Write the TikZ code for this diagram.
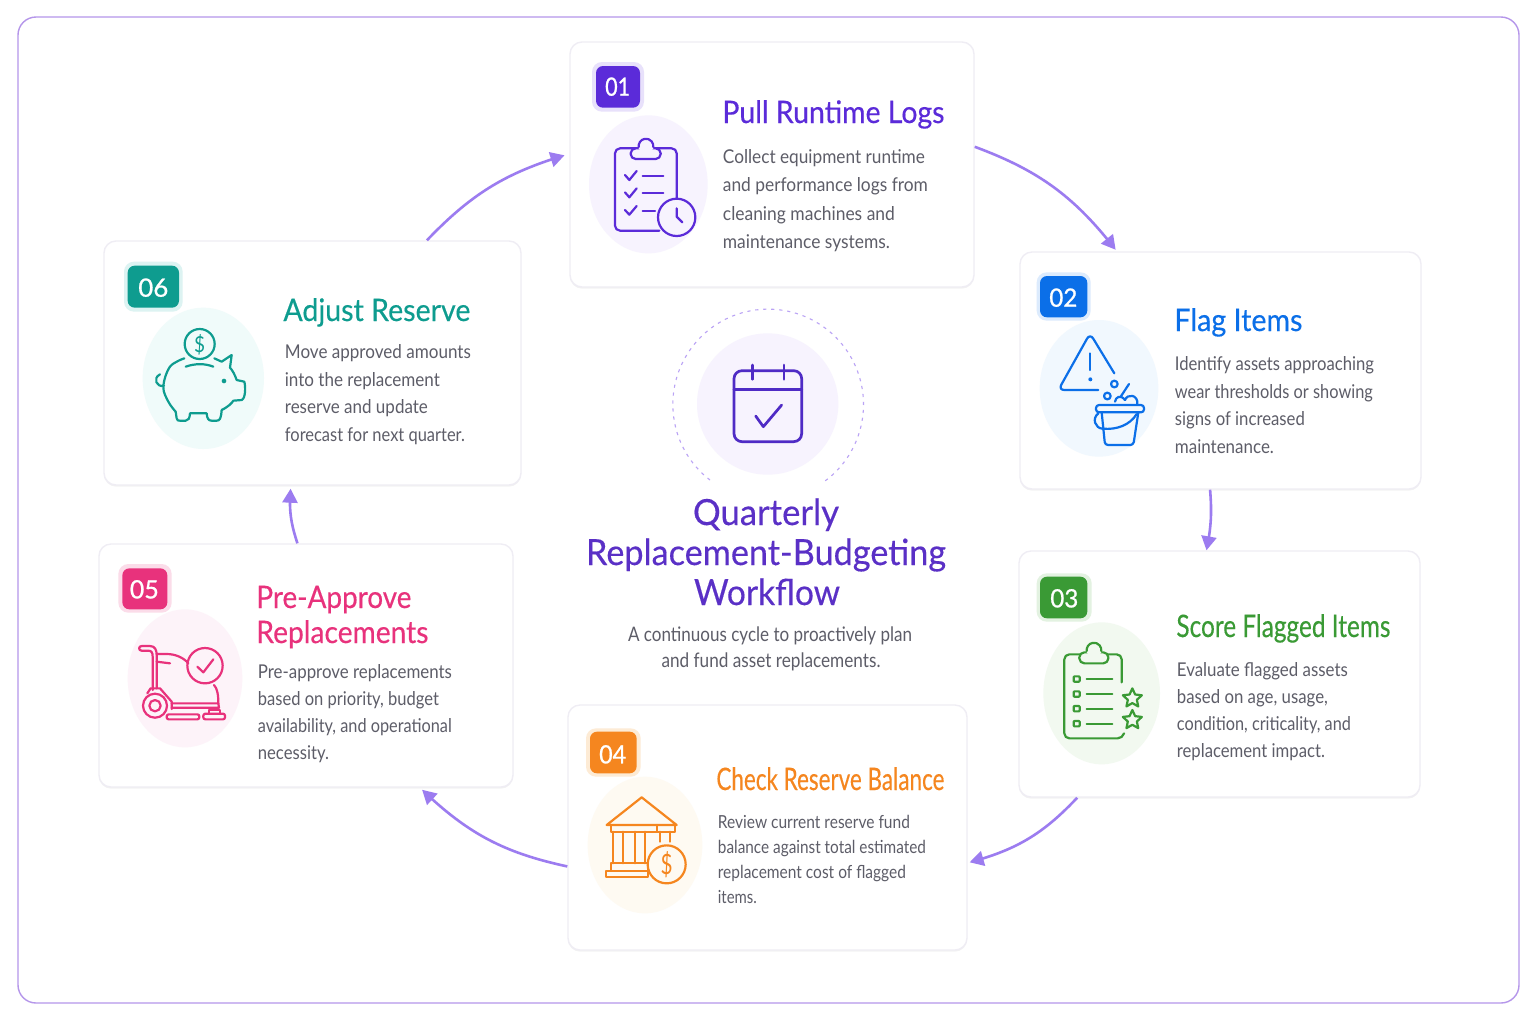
\documentclass[tikz,border=0pt]{standalone}
\usepackage{fontspec}
\usepackage{graphicx}
\usetikzlibrary{arrows.meta,shadows,shapes.geometric,bending}
\setmainfont{Lato}
\newfontfamily\medfont[FakeBold=0.35]{Lato}
\newfontfamily\digitfont[FakeBold=0.9]{Lato}
\newlength{\fitlen}
\newcommand{\Wd}[2]{\setlength{\fitlen}{#1pt}\setlength{\fitlen}{0.5\fitlen}\resizebox{\fitlen}{\height}{#2}}
\definecolor{cA}{HTML}{5B2BD9}\definecolor{cB}{HTML}{0B6FE8}\definecolor{cC}{HTML}{3A9A35}
\definecolor{cD}{HTML}{F5861F}\definecolor{cE}{HTML}{E8327C}\definecolor{cF}{HTML}{0E9C8F}
\definecolor{hA}{HTML}{E8E1FB}\definecolor{hB}{HTML}{DCEBFD}\definecolor{hC}{HTML}{E3F2E1}
\definecolor{hD}{HTML}{FDEBD5}\definecolor{hE}{HTML}{FBDCE9}\definecolor{hF}{HTML}{DDF3F2}
\definecolor{eA}{HTML}{F7F3FE}\definecolor{eB}{HTML}{F1F8FE}\definecolor{eC}{HTML}{F2F9F0}
\definecolor{eD}{HTML}{FEFAF2}\definecolor{eE}{HTML}{FDF3F9}\definecolor{eF}{HTML}{F0FBFA}
\definecolor{bodycol}{HTML}{5D5D68}\definecolor{flowcol}{HTML}{9C7CF0}\definecolor{framecol}{HTML}{B596EA}
\definecolor{cardline}{HTML}{EFEDF4}\definecolor{titlecol}{HTML}{5A30C6}\definecolor{calcol}{HTML}{4F2BC5}
\tikzset{
 zoomed/.style 2 args={shift={(#1,#2)},x=0.166667pt,y=-0.166667pt},
 card/.style={draw=cardline,line width=0.7pt,fill=white,rounded corners=6pt,inner sep=0pt,
   drop shadow={shadow xshift=0pt,shadow yshift=-0.8pt,opacity=0.05,fill=black}},
 flow/.style={draw=flowcol,line width=1.3pt,-{Triangle[length=7pt,width=7.5pt,flex=1]}},
 ttl/.style={anchor=base west,inner sep=0pt,font=\fontsize{15.5}{18}\medfont},
 body/.style={anchor=north west,inner sep=0pt,align=left,text=bodycol},
 badgetext/.style={inner sep=0pt,text=white,font=\fontsize{12.6}{14}\digitfont},
 icon/.style={draw=#1,line width=1.1pt,line cap=round,line join=round},
}
\begin{document}
\begin{tikzpicture}[x=0.5pt,y=-0.5pt]
\useasboundingbox (0,0) rectangle (1536,1024);
\fill[white] (0,0) rectangle (1536,1024);
\draw[draw=framecol,fill=white!98!eA,line width=0.7pt,rounded corners=9pt] (18,17) rectangle (1519,1003);

% cards
\node[card,minimum width=202pt,minimum height=122.5pt] (c1) at (772,164.5) {};
\node[card,minimum width=200.5pt,minimum height=118.5pt] (c2) at (1220.5,370.5) {};
\node[card,minimum width=200.5pt,minimum height=123pt] (c3) at (1219.5,674) {};
\node[card,minimum width=199.5pt,minimum height=122.5pt] (c4) at (767.5,827.5) {};
\node[card,minimum width=207pt,minimum height=121.5pt] (c5) at (306,665.5) {};
\node[card,minimum width=208.5pt,minimum height=122pt] (c6) at (312.5,363) {};

% connectors
\draw[flow,shorten >=1pt] (c1.5) to[bend left=16] (c2.131);
\draw[flow] (c2.265.4) to[bend left=8] (c3.96.2);
\draw[flow,shorten >=1pt] (c3.221) to[bend left=16] (c4.350);
\draw[flow,shorten >=1.5pt] (c4.191.7) to[bend left=16] (c5.313.4);
\draw[flow,shorten >=1.5pt] (c5.94.2) to[bend left=12] (c6.260);
\draw[flow,shorten >=2.5pt] (c6.47.3) to[bend left=15] (c1.177);

% centre
\begin{scope}[zoomed={660}{300}]
\draw[flowcol!70,line width=0.55pt,dash pattern=on 1.6pt off 2.4pt] (150,540) arc[start angle=127.6,end angle=414.6,radius=286];
\fill[eA] (323,312) circle[radius=212];
\begin{scope}[icon=calcol,line width=1.35pt]
\draw[rounded corners=4pt] (222,212) rectangle (425,425);
\draw (222,268) -- (425,268);
\draw (277,195) -- (277,238);
\draw (372,195) -- (372,238);
\draw (287,348) -- (310,380) -- (365,315);
\end{scope}
\end{scope}
\node[anchor=base,inner sep=0pt,text=titlecol,font=\fontsize{18}{21}\medfont] (t0a) at (766,525) {\Wd{146}{Quarterly}};
\node[anchor=base,inner sep=0pt,text=titlecol,font=\fontsize{18}{21}\medfont] (t0b) at (766,565) {\Wd{360}{Replacement-Budgeting}};
\node[anchor=base,inner sep=0pt,text=titlecol,font=\fontsize{18}{21}\medfont] (t0c) at (767,605) {\Wd{146}{Workflow}};
\node[anchor=base,inner sep=0pt,text=bodycol,font=\fontsize{10}{12}\selectfont] (s0a) at (770,641) {\Wd{284}{A continuous cycle to proactively plan}};
\node[anchor=base,inner sep=0pt,text=bodycol,font=\fontsize{10}{12}\selectfont] (s0b) at (771,667) {\Wd{219}{and fund asset replacements.}};

% ---------- 01
\begin{scope}[zoomed={570}{40}]
\fill[hA,rounded corners=5pt] (66,66) rectangle (222,215);
\fill[cA,rounded corners=3.5pt] (78,78) rectangle (210,203);
\node[badgetext] (b1) at (143,140) {\Wd{25}{01}};
\fill[eA] (235,433) ellipse[x radius=178,y radius=207];
\begin{scope}[icon=cA]
\draw[rounded corners=2.5pt] (320,475) -- (320,325) -- (135,325) -- (135,572) -- (268,572);
\draw[fill=eA,rounded corners=2.5pt] (182,357) -- (182,325) -- (272,325) -- (272,357) -- cycle;
\draw[fill=eA] (206.3,322) arc[start angle=170,end angle=370,radius=22];
\draw[eA,line width=1.3pt] (210,326) -- (246,326);
\draw (165,405) -- (178,420) -- (200,393);
\draw (165,457) -- (178,472) -- (200,445);
\draw (165,510) -- (178,524) -- (200,498);
\draw (218,407) -- (280,407);
\draw (218,460) -- (280,460);
\draw (218,512) -- (255,512);
\draw[fill=eA] (320,532) circle[radius=56];
\draw (320,505) -- (320,530) -- (337,547);
\end{scope}
\end{scope}
\node[ttl,text=cA] (t1) at (722,123) {\Wd{222}{Pull Runtime Logs}};
\node[body,font=\fontsize{9.5}{14.2}\selectfont] (d1) at (722.5,149) {\Wd{202}{Collect equipment runtime}\\\Wd{205}{and performance logs from}\\\Wd{172}{cleaning machines and}\\\Wd{167}{maintenance systems.}};

% ---------- 02
\begin{scope}[zoomed={1030}{265}]
\fill[hB,rounded corners=5pt] (20,22) rectangle (182,167);
\fill[cB,rounded corners=3.5pt] (30,33) rectangle (172,157);
\node[badgetext] (b2) at (100,98) {\Wd{28}{02}};
\fill[eB] (207,370) ellipse[x radius=178,y radius=205];
\begin{scope}[icon=cB]
\draw[rounded corners=3pt] (253,325) -- (180,205) -- (85,375) -- (205,375);
\draw (181,265) -- (181,315);
\fill[cB] (181,343) circle[radius=6];
\draw (253,357) circle[radius=10];
\draw (232,393) circle[radius=10];
\draw (297,357) -- (272,395);
\draw (255,410) .. controls (257,395) and (272,388) .. (285,405);
\draw (285,405) .. controls (292,385) and (325,388) .. (322,418);
\draw[rounded corners=1.5pt,fill=eB] (198,420) rectangle (342,442);
\draw[rounded corners=1.5pt] (215,442) -- (225,540) -- (310,540) -- (325,442);
\draw (205,445) .. controls (185,460) and (195,490) .. (218,491) .. controls (260,495) and (300,480) .. (320,447);
\end{scope}
\end{scope}
\node[ttl,text=cB] (t2) at (1174,331) {\Wd{128}{Flag Items}};
\node[body,font=\fontsize{9.5}{13.85}\selectfont] (d2) at (1174.5,356) {\Wd{199}{Identify assets approaching}\\\Wd{198}{wear thresholds or showing}\\\Wd{130}{signs of increased}\\\Wd{99}{maintenance.}};

% ---------- 03
\begin{scope}[zoomed={1030}{565}]
\fill[hC,rounded corners=5pt] (20,25) rectangle (185,170);
\fill[cC,rounded corners=3.5pt] (30,35) rectangle (172,160);
\node[badgetext] (b3) at (103,100) {\Wd{28}{03}};
\fill[eC] (215,385) ellipse[x radius=175,y radius=213];
\begin{scope}[icon=cC]
\draw[rounded corners=2.5pt] (275,352) -- (275,268) -- (103,268) -- (103,520) -- (278,520) -- (282,505);
\draw[fill=eC,rounded corners=2.5pt] (148,295) -- (148,262) -- (235,262) -- (235,295) -- cycle;
\draw[fill=eC] (170.3,259) arc[start angle=170,end angle=370,radius=22];
\draw[eC,line width=1.3pt] (174,263) -- (210,263);
\foreach \yy/\nn in {342/1,387/2,431/3,476/4}{
 \draw[rounded corners=0.4pt] (131,\yy-8) rectangle (149,\yy+8);
 \draw (170,\yy) -- (247,\yy);
}
\node[star,star points=5,star point ratio=2.1,draw=cC,line width=1.1pt,inner sep=0pt,minimum size=10pt] (s31) at (307,400) {};
\node[star,star points=5,star point ratio=2.1,draw=cC,line width=1.1pt,inner sep=0pt,minimum size=10pt] (s32) at (307,465) {};
\end{scope}
\end{scope}
\node[ttl,text=cC] (t3) at (1176,637) {\Wd{214}{Score Flagged Items}};
\node[body,font=\fontsize{9.5}{13.5}\selectfont] (d3) at (1176.5,662) {\Wd{171}{Evaluate flagged assets}\\\Wd{151}{based on age, usage,}\\\Wd{174}{condition, criticality, and}\\\Wd{148}{replacement impact.}};

% ---------- 04
\begin{scope}[zoomed={580}{720}]
\fill[hD,rounded corners=5pt] (18,25) rectangle (182,170);
\fill[cD,rounded corners=3.5pt] (30,35) rectangle (170,160);
\node[badgetext] (b4) at (98,103) {\Wd{27}{04}};
\fill[eD] (195,375) ellipse[x radius=172,y radius=205];
\begin{scope}[icon=cD]
\draw (185,232) -- (290,315) -- (80,315) -- cycle;
\draw (92,315) rectangle (285,335);
\draw (230,315) -- (230,335);
\foreach \xa in {100,130,165,195}{\draw (\xa,335) -- (\xa,430);}
\draw (240,335) -- (240,365);
\draw (270,335) -- (270,365);
\draw (92,430) rectangle (205,452);
\draw (78,452) rectangle (205,472);
\draw[fill=eD] (260,433) circle[radius=57];
\end{scope}
\node[inner sep=0pt,text=cD,font=\fontsize{14}{16}\selectfont] (m4) at (260,433) {\Wd{12}{\$}};
\end{scope}
\node[ttl,text=cD] (t4) at (716,790) {\Wd{228}{Check Reserve Balance}};
\node[body,font=\fontsize{9}{12.5}\selectfont] (d4) at (717.5,814.5) {\Wd{192}{Review current reserve fund}\\\Wd{208}{balance against total estimated}\\\Wd{188}{replacement cost of flagged}\\\Wd{39}{items.}};

% ---------- 05
\begin{scope}[zoomed={110}{560}]
\fill[hE,rounded corners=5pt] (25,12) rectangle (185,158);
\fill[cE,rounded corners=3.5pt] (37,25) rectangle (172,148);
\node[badgetext] (b5) at (103,88) {\Wd{29}{05}};
\fill[eE] (225,355) ellipse[x radius=172,y radius=207];
\begin{scope}[icon=cE]
\draw (95,258) -- (120,258) .. controls (135,258) and (140,270) .. (140,285) -- (140,385);
\draw (95,258) .. controls (85,258) and (85,272) .. (95,272) -- (115,272) .. controls (125,272) and (128,278) .. (128,290) -- (128,390);
\draw (140,282) -- (170,282) .. controls (195,282) and (220,292) .. (235,310);
\draw (140,305) -- (180,310);
\draw (285,317) circle[radius=53];
\draw (262,320) -- (280,337) -- (310,298);
\draw (312,375) .. controls (322,385) and (325,405) .. (325,430);
\draw (185,430) -- (325,430) -- (327,443) -- (185,443);
\draw (112,400) -- (122,385) -- (150,385) -- (185,425) -- (185,447);
\draw[fill=eE] (135,437) circle[radius=36];
\draw (135,437) circle[radius=17];
\draw[rounded corners=1pt] (170,463) rectangle (268,478);
\draw[rounded corners=1pt] (280,461) rectangle (345,478);
\draw (298,461) -- (298,450) -- (330,450) -- (330,461);
\end{scope}
\end{scope}
\node[ttl,text=cE] (t5a) at (256,608) {\Wd{155}{Pre-Approve}};
\node[ttl,text=cE] (t5b) at (256,643) {\Wd{172}{Replacements}};
\node[body,font=\fontsize{9.5}{13.5}\selectfont] (d5) at (257.5,664) {\Wd{194}{Pre-approve replacements}\\\Wd{181}{based on priority, budget}\\\Wd{194}{availability, and operational}\\\Wd{71}{necessity.}};

% ---------- 06
\begin{scope}[zoomed={115}{255}]
\fill[hF,rounded corners=5pt] (27,20) rectangle (203,170);
\fill[cF,rounded corners=3.5pt] (38,32) rectangle (192,158);
\node[badgetext] (b6) at (115,98) {\Wd{30}{06}};
\fill[eF] (265,370) ellipse[x radius=182,y radius=212];
\begin{scope}[icon=cF]
\draw (254,267) circle[radius=45];
\draw plot[smooth,tension=0.6] coordinates {(208,310) (165,335) (145,395) (160,440) (182,470)};
\draw (182,470) -- (185,490) .. controls (186,497) and (190,497) .. (195,497) -- (212,497) .. controls (220,497) and (224,490) .. (225,475) -- (275,475) .. controls (276,490) and (280,497) .. (290,497) -- (305,497) .. controls (315,497) and (318,490) .. (320,465);
\draw (320,465) .. controls (340,455) and (350,445) .. (355,437) -- (380,435) .. controls (392,430) and (392,395) .. (388,380) -- (365,375) .. controls (360,360) and (352,345) .. (345,338) -- (350,300) -- (320,320) -- (298,310);
\draw (212,335) .. controls (240,325) and (270,325) .. (295,335);
\fill[cF] (327,378) circle[radius=7];
\draw (147,392) .. controls (125,398) and (112,370) .. (135,358);
\end{scope}
\node[inner sep=0pt,text=cF,font=\fontsize{11}{13}\selectfont] (m6) at (254,268) {\Wd{11}{\$}};
\end{scope}
\node[ttl,text=cF] (t6) at (283,321) {\Wd{187}{Adjust Reserve}};
\node[body,font=\fontsize{9.5}{13.85}\selectfont] (d6) at (284.5,344) {\Wd{186}{Move approved amounts}\\\Wd{155}{into the replacement}\\\Wd{143}{reserve and update}\\\Wd{180}{forecast for next quarter.}};
\end{tikzpicture}
\end{document}
